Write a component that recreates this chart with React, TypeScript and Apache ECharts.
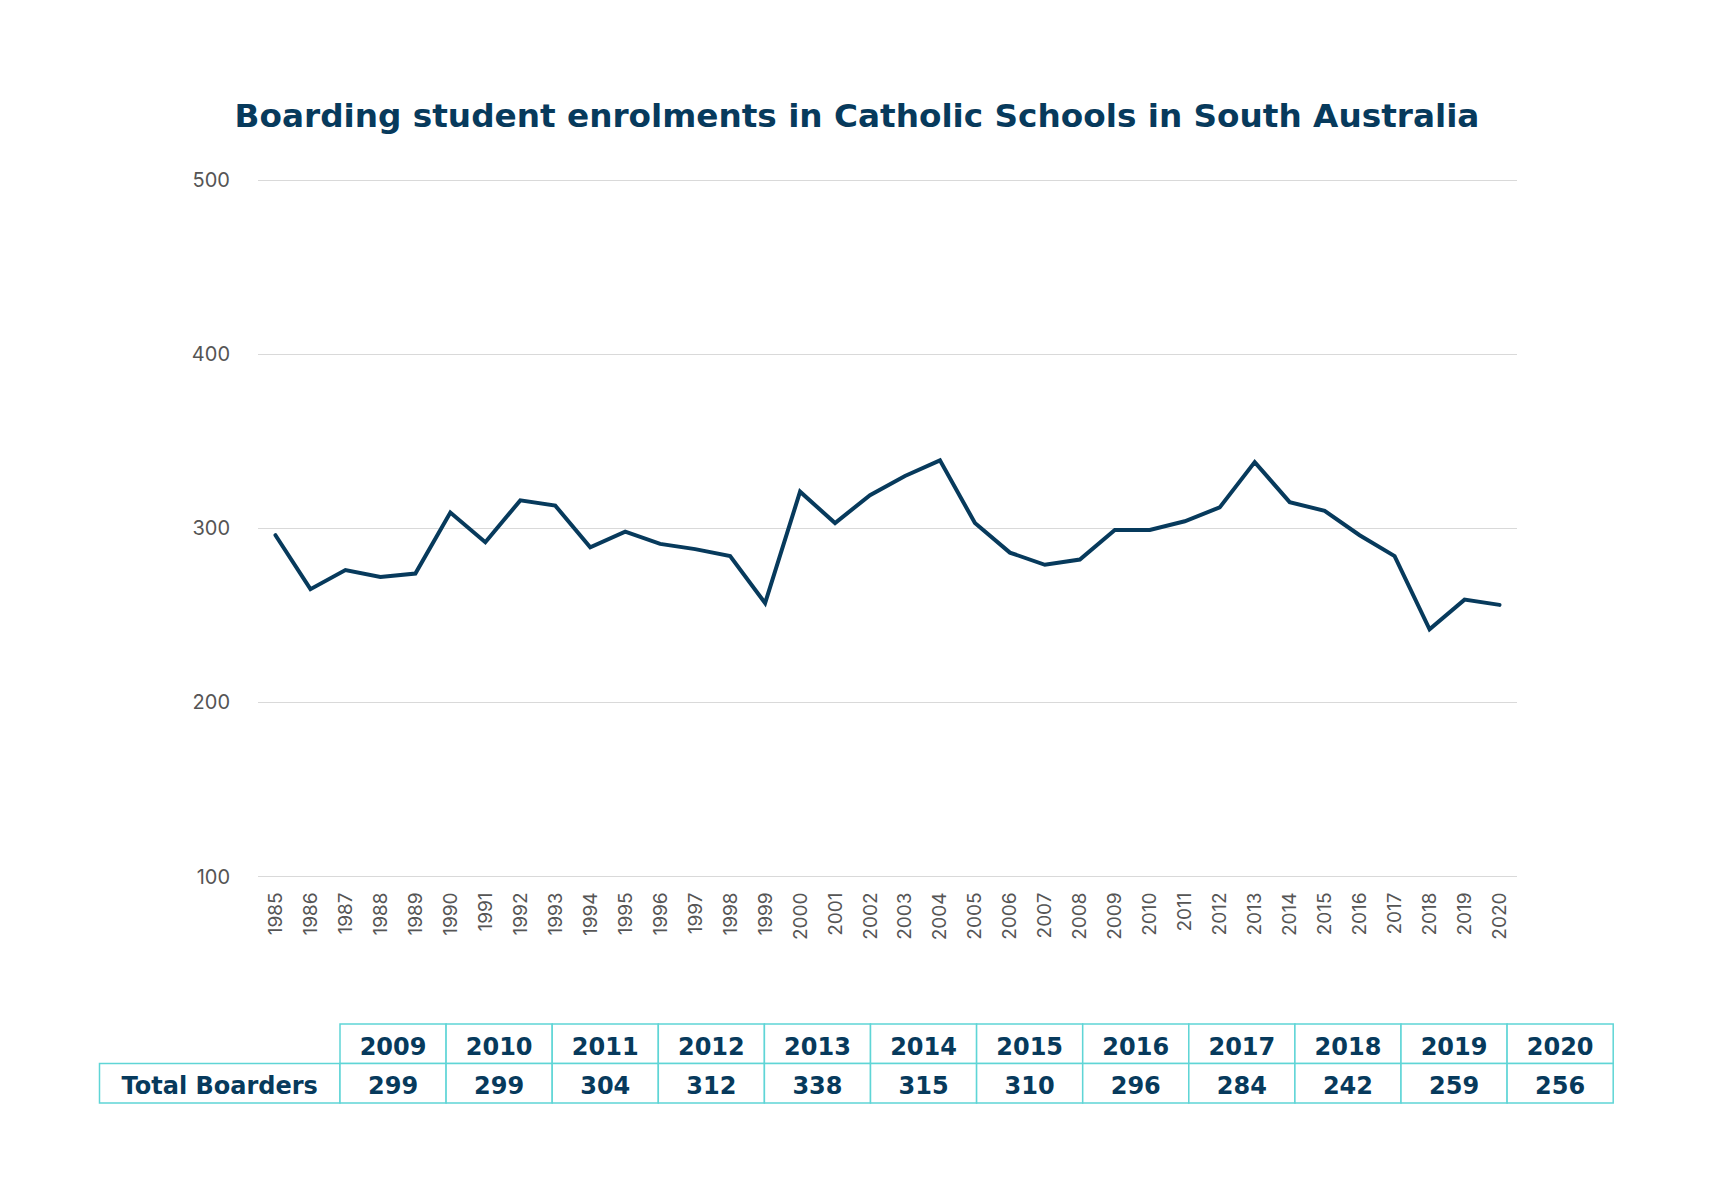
import React, { useEffect, useRef } from "react";
import * as echarts from "echarts";

const titleText = "Boarding student enrolments in Catholic Schools in South Australia";

const years: string[] = [
  "1985", "1986", "1987", "1988", "1989", "1990", "1991", "1992", "1993", "1994",
  "1995", "1996", "1997", "1998", "1999", "2000", "2001", "2002", "2003", "2004",
  "2005", "2006", "2007", "2008", "2009", "2010", "2011", "2012", "2013", "2014",
  "2015", "2016", "2017", "2018", "2019", "2020",
];

const boarders: number[] = [
  296, 265, 276, 272, 274, 309, 292, 316, 313, 289,
  298, 291, 288, 284, 257, 321, 303, 319, 330, 339,
  303, 286, 279, 282, 299, 299, 304, 312, 338, 315,
  310, 296, 284, 242, 259, 256,
];

const tableRowLabel = "Total Boarders";
const tableYears = years.slice(-12);
const tableValues = boarders.slice(-12);

const NAVY = "#073a5c";
const TEAL = "#5fd5d6";
const BOLD_FONT = "'DejaVu Sans', Inter, sans-serif";
const FONT = "Inter, 'Noto Sans', sans-serif";

export default function App() {
  const ref = useRef<HTMLDivElement>(null);

  useEffect(() => {
    if (!ref.current) return;
    const chart = echarts.init(ref.current, null, { renderer: "svg" });

    // table layout
    const tLeft = 99.5;
    const labelW = 240.5;
    const colW = 106.1;
    const top0 = 1024;
    const rowH = 39.5;
    const graphics: any[] = [];
    const cellStyle = { fill: "#ffffff", stroke: TEAL, lineWidth: 1.5 };
    const textStyle = (x: number, y: number, t: string) => ({
      type: "text",
      x,
      y,
      style: {
        text: t,
        fill: NAVY,
        font: `700 24px ${BOLD_FONT}`,
        textAlign: "center",
        textVerticalAlign: "middle",
      },
      z: 10,
    });
    graphics.push({
      type: "rect",
      shape: { x: tLeft, y: top0 + rowH, width: labelW, height: rowH },
      style: cellStyle,
    });
    graphics.push(textStyle(tLeft + labelW / 2, top0 + rowH * 1.5 + 3, tableRowLabel));
    tableYears.forEach((yr, i) => {
      const x = tLeft + labelW + i * colW;
      graphics.push({
        type: "rect",
        shape: { x, y: top0, width: colW, height: rowH },
        style: cellStyle,
      });
      graphics.push({
        type: "rect",
        shape: { x, y: top0 + rowH, width: colW, height: rowH },
        style: cellStyle,
      });
      graphics.push(textStyle(x + colW / 2, top0 + rowH / 2 + 3, yr));
      graphics.push(textStyle(x + colW / 2, top0 + rowH * 1.5 + 3, String(tableValues[i])));
    });

    chart.setOption({
      animation: false,
      backgroundColor: "#ffffff",
      title: {
        text: titleText,
        left: "center",
        top: 94,
        textStyle: {
          color: NAVY,
          fontFamily: BOLD_FONT,
          fontWeight: 700,
          fontSize: 32.7,
        },
      },
      grid: { left: 258, right: 197, top: 180, bottom: 323.5, containLabel: false },
      xAxis: {
        type: "category",
        data: years,
        boundaryGap: true,
        axisLine: { show: false },
        axisTick: { show: false },
        axisLabel: {
          rotate: 90,
          interval: 0,
          margin: 16,
          color: "#555555",
          fontFamily: FONT,
          fontSize: 19,
        },
        splitLine: { show: false },
      },
      yAxis: {
        type: "value",
        min: 100,
        max: 500,
        interval: 100,
        axisLine: { show: false },
        axisTick: { show: false },
        axisLabel: {
          margin: 28,
          color: "#555555",
          fontFamily: FONT,
          fontSize: 20,
        },
        splitLine: { lineStyle: { color: "#d9d9d9", width: 1.2 } },
      },
      series: [
        {
          type: "line",
          data: boarders,
          symbol: "none",
          lineStyle: { color: NAVY, width: 4, cap: "round", join: "miter" },
        },
      ],
      graphic: graphics,
    });

    return () => chart.dispose();
  }, []);

  return (
    <div
      ref={ref}
      style={{ position: "fixed", left: 0, top: 0, width: 1714, height: 1200, background: "#fff" }}
    />
  );
}
